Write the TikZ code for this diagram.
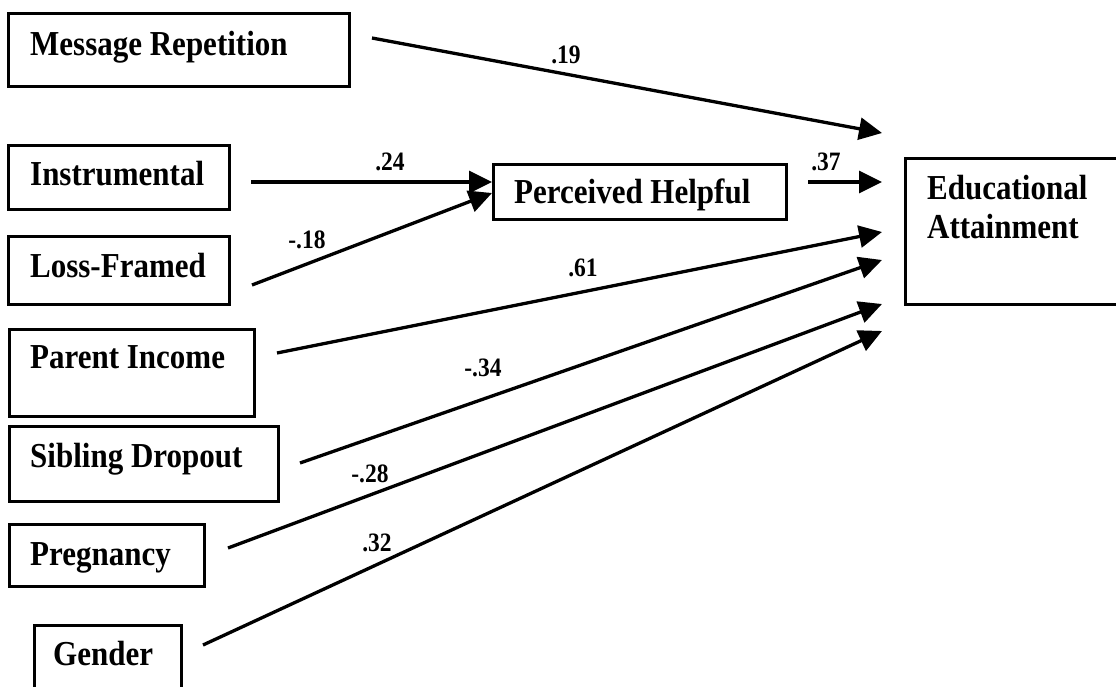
\documentclass[tikz,border=0pt]{standalone}
\usepackage{fontspec}
\setmainfont{Liberation Serif}
\usetikzlibrary{arrows.meta}
\newcommand{\vs}[1]{\scalebox{1}[1.13]{#1}}
\begin{document}
\begin{tikzpicture}[x=1pt,y=-1pt,
  box/.style={draw, line width=3pt, inner sep=0pt, anchor=north west},
  lbl/.style={font=\fontsize{31}{39}\selectfont\bfseries, anchor=base west, inner sep=0pt},
  coef/.style={font=\fontsize{23.5}{26}\selectfont\bfseries, inner sep=0pt},
  arr/.style={line width=3.3pt, -{Triangle[length=23pt,width=22pt]}}]
\fill[white] (0,0) rectangle (1116,686);
\useasboundingbox (0,0) rectangle (1116,686);
\clip (0,0) rectangle (1116,686);
% boxes
\node[box, minimum width=341pt, minimum height=73pt] (mr) at (7,12) {};
\node[box, minimum width=221pt, minimum height=64pt] (in) at (7,144) {};
\node[box, minimum width=221pt, minimum height=68pt] (lf) at (7,235) {};
\node[box, minimum width=245pt, minimum height=87pt] (pi) at (8,328) {};
\node[box, minimum width=269pt, minimum height=75pt] (sd) at (8,425) {};
\node[box, minimum width=195pt, minimum height=62pt] (pr) at (8,523) {};
\node[box, minimum width=147pt, minimum height=90pt] (ge) at (33,624) {};
\node[box, minimum width=293pt, minimum height=55pt] (ph) at (492,163) {};
\node[box, minimum width=240pt, minimum height=146pt] (ea) at (904,157) {};
% texts
\node[lbl] (tmr) at (30,55) {\vs{Message Repetition}};
\node[lbl] (tin) at (30,185) {\vs{Instrumental}};
\node[lbl] (tlf) at (30,277) {\vs{Loss-Framed}};
\node[lbl] (tpi) at (30,368) {\vs{Parent Income}};
\node[lbl] (tsd) at (30,467) {\vs{Sibling Dropout}};
\node[lbl] (tpr) at (30,565) {\vs{Pregnancy}};
\node[lbl] (tge) at (53,665) {\vs{Gender}};
\node[lbl] (tph) at (514,203) {\vs{Perceived Helpful}};
\node[lbl, anchor=north west, align=left] (tea) at (927,175) {\vs{Educational}\\\vs{Attainment}};
% connector ends
\coordinate (s1) at (372,38);  \coordinate (e1) at (882,133);
\coordinate (s2) at (251,182);
\coordinate (s3) at (252,285);
\coordinate (s4) at (808,182); \coordinate (e4) at (882,182);
\coordinate (s5) at (277,353); \coordinate (e5) at (882,232);
\coordinate (s6) at (300,463); \coordinate (e6) at (882,260);
\coordinate (s7) at (228,548); \coordinate (e7) at (882,304);
\coordinate (s8) at (203,645); \coordinate (e8) at (882,331);
% arrows
\draw[arr] (s1) -- (e1);
\draw[arr] (s2) -- (ph.west |- s2);
\draw[arr] (s3) -- (492,193);
\draw[arr] (s4) -- (e4);
\draw[arr] (s5) -- (e5);
\draw[arr] (s6) -- (e6);
\draw[arr] (s7) -- (e7);
\draw[arr] (s8) -- (e8);
% coefficients
\node[coef] (c1) at (566,55) {\vs{.19}};
\node[coef] (c2) at (390,162) {\vs{.24}};
\node[coef] (c3) at (307,240) {\vs{-.18}};
\node[coef] (c4) at (826,162) {\vs{.37}};
\node[coef] (c5) at (583,268) {\vs{.61}};
\node[coef] (c6) at (483,368) {\vs{-.34}};
\node[coef] (c7) at (370,474) {\vs{-.28}};
\node[coef] (c8) at (377,543) {\vs{.32}};
\end{tikzpicture}
\end{document}
